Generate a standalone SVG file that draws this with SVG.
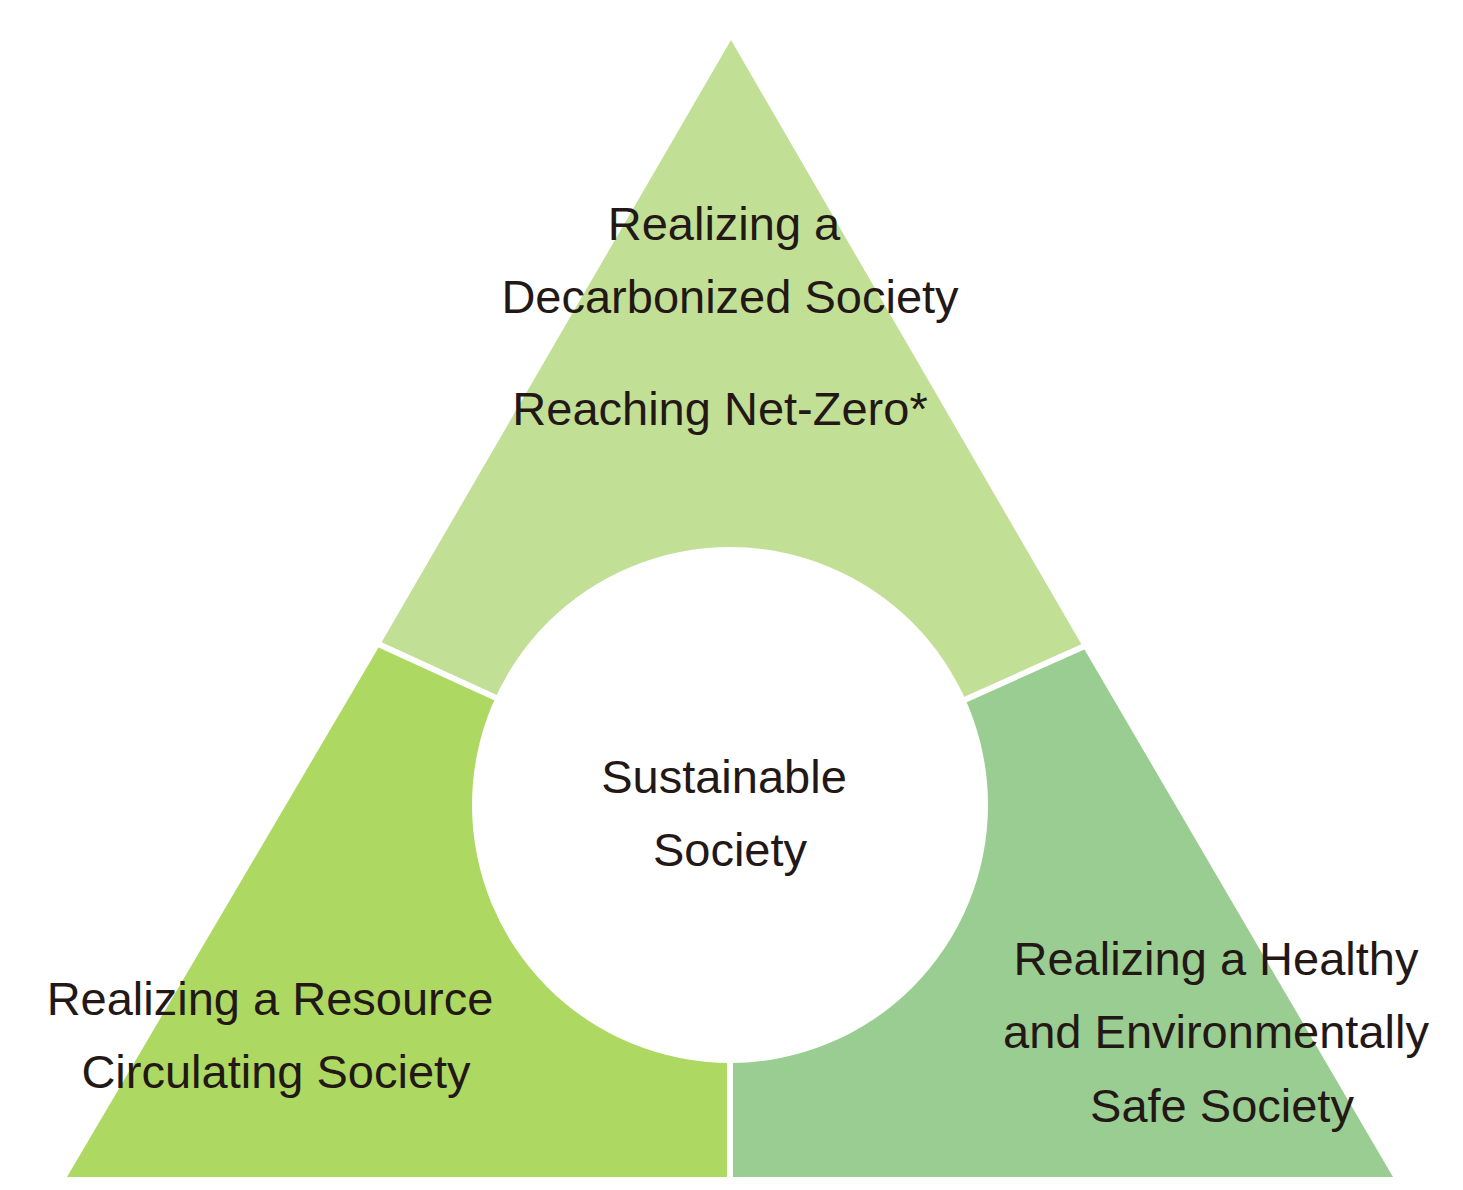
<svg xmlns="http://www.w3.org/2000/svg" width="1463" height="1190" viewBox="0 0 1463 1190">
<style>
text{font-family:"Liberation Sans",Arial,sans-serif;font-size:47px;fill:#231815;text-anchor:middle}
.sep{stroke:#fff;stroke-width:6}
</style>
<rect width="1463" height="1190" fill="#fff"/>
<g id="top"><polygon points="730,805 380,645 731,40 1083,647" fill="#c2df96"/>
<text x="724" y="240">Realizing a</text><text x="730" y="313">Decarbonized Society</text><text x="720" y="425">Reaching Net-Zero*</text></g>
<g id="left"><polygon points="730,805 380,645 67,1177 730,1177" fill="#add862"/>
<text x="270" y="1015">Realizing a Resource</text><text x="276" y="1088">Circulating Society</text></g>
<g id="right"><polygon points="730,805 730,1177 1393,1177 1083,647" fill="#99cd91"/>
<text x="1216" y="975">Realizing a Healthy</text><text x="1216" y="1048">and Environmentally</text><text x="1222" y="1122">Safe Society</text></g>
<g id="connectors"><line class="sep" x1="730" y1="805" x2="376" y2="643"/><line class="sep" x1="730" y1="805" x2="1087" y2="645"/><line class="sep" x1="730" y1="805" x2="730" y2="1180"/></g>
<g id="center"><circle cx="730" cy="805" r="258" fill="#fff"/>
<text x="724" y="793">Sustainable</text><text x="730" y="866">Society</text></g>
</svg>
